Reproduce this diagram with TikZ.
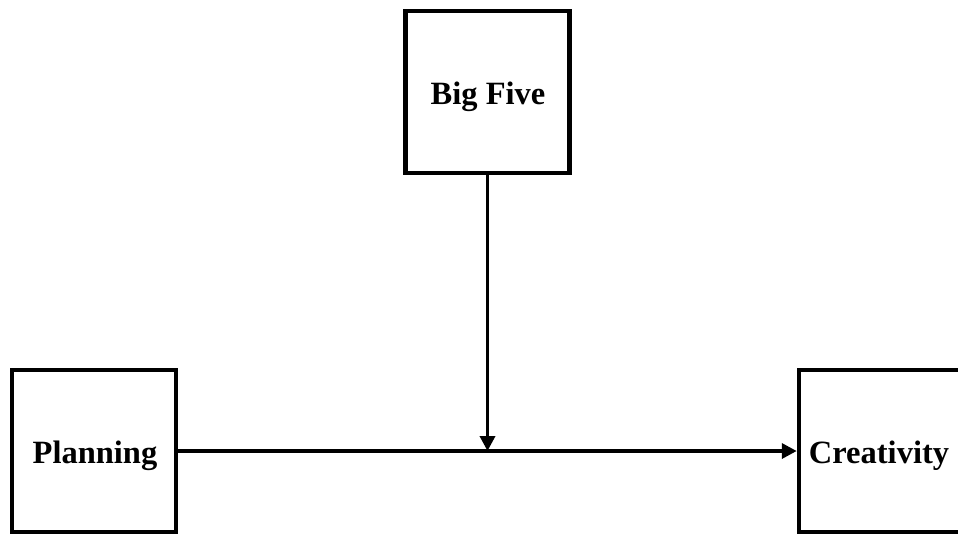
\documentclass[tikz,border=0pt]{standalone}
\usepackage{fontspec}
\setmainfont{Liberation Serif}
\usetikzlibrary{arrows.meta}
\begin{document}
\begin{tikzpicture}[x=1pt,y=-1pt,
  varbox/.style={draw=black, line width=4.5pt, fill=white, inner sep=0pt,
    minimum width=164pt, minimum height=162pt},
  varlabel/.style={inner sep=0pt, font=\fontsize{32.5}{39}\selectfont\bfseries},
  conn/.style={line width=3.5pt, -{Triangle[length=15pt,width=15pt]}}]
\useasboundingbox (0,0) rectangle (958,537);
\clip (0,0) rectangle (958,537);
\node[varbox] (big) at (487.5,92) {};
\node[varbox] (plan) at (94,451) {};
\node[varbox, minimum width=168pt] (crea) at (883,451) {};
\node[varlabel] (biglab) at (488,97) {Big Five};
\node[varlabel] (planlab) at (95,456) {Planning};
\node[varlabel] (crealab) at (879,456) {Creativity};
\coordinate (meet) at (big.south |- plan.east);
\draw[conn] (plan.east) -- (crea.west);
\draw[conn] (big.south) -- (meet);
\end{tikzpicture}
\end{document}
